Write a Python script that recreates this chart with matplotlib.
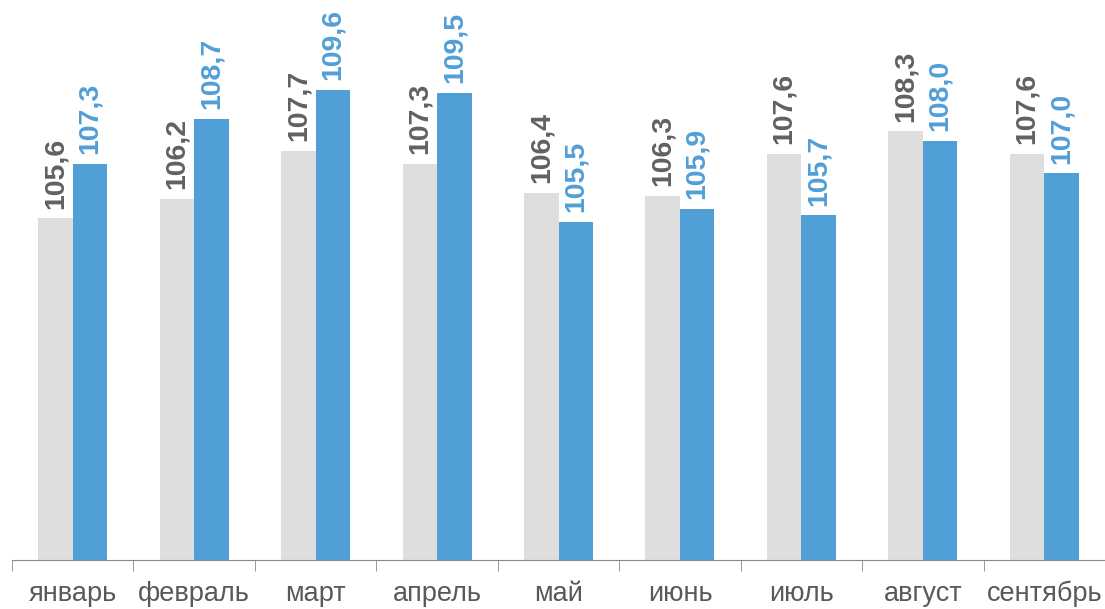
import matplotlib.pyplot as plt
import numpy as np

plt.rcParams['font.family'] = ['Liberation Sans', 'DejaVu Sans']

# данные
months = ['январь', 'февраль', 'март', 'апрель', 'май', 'июнь', 'июль', 'август', 'сентябрь']
prev_year = [105.6, 106.2, 107.7, 107.3, 106.4, 106.3, 107.6, 108.3, 107.6]
cur_year = [107.3, 108.7, 109.6, 109.5, 105.5, 105.9, 105.7, 108.0, 107.0]

grey = '#dedede'
blue = '#519fd7'
label_grey = '#616161'

fig = plt.figure(figsize=(11.05, 6.09), dpi=100)
ax = fig.add_axes([12 / 1105, 49 / 609, 1093 / 1105, 560 / 609])

x = np.arange(len(months))
w = 0.284
ax.bar(x - w / 2, prev_year, width=w, color=grey)
ax.bar(x + w / 2, cur_year, width=w, color=blue)

ax.set_ylim(95, 95 + 560 / 32.22)
ax.set_xlim(-0.5, len(months) - 0.5)

# подписи значений
for xs, vals, col in [(x - w / 2, prev_year, label_grey), (x + w / 2, cur_year, blue)]:
    for xi, v in zip(xs, vals):
        ax.annotate(f'{v:.1f}'.replace('.', ','), (xi, v), textcoords='offset points',
                    xytext=(0, 7), ha='center', va='bottom', rotation=90,
                    fontsize=20.5, fontweight='bold', color=col)

# оси
for s in ['top', 'right', 'left']:
    ax.spines[s].set_visible(False)
ax.spines['bottom'].set_color('#888888')
ax.set_yticks([])
ax.set_xticks(x)
ax.set_xticklabels(months, fontsize=19.5, color='#595959')
ax.tick_params(axis='x', which='major', length=0, pad=15)
ax.set_xticks(np.arange(-0.5, len(months), 1), minor=True)
ax.tick_params(axis='x', which='minor', length=8, color='#888888')

fig.savefig('out.png', dpi=100)
